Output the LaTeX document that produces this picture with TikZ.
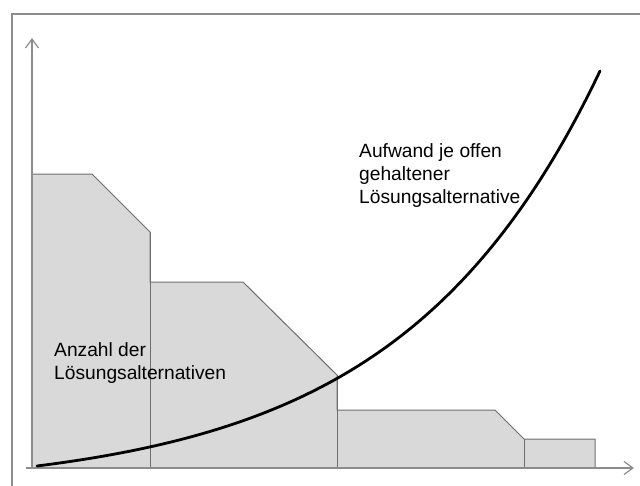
\documentclass[tikz,border=0pt]{standalone}
\usepackage{fontspec}
\setmainfont{Liberation Sans}
\usetikzlibrary{arrows.meta}
\definecolor{framegray}{HTML}{8C8C8C}
\definecolor{axisgray}{HTML}{8C8C8C}
\definecolor{edgegray}{HTML}{6E6E6E}
\definecolor{areafill}{HTML}{D9D9D9}
\tikzset{
  frameline/.style={draw=framegray, line width=1.6pt},
  axisline/.style={draw=axisgray, line width=1.2pt,
    -{Straight Barb[length=9pt,width=13pt,line width=1.2pt]}},
  areashape/.style={fill=areafill, draw=edgegray, line width=1pt, line join=miter},
  divider/.style={draw=edgegray, line width=1pt},
  costcurve/.style={draw=black, line width=2.8pt, line cap=round},
  label/.style={font=\fontsize{19.2}{23}\selectfont, align=left, inner sep=0pt, anchor=north west}
}
\begin{document}
\begin{tikzpicture}[x=1pt,y=-1pt]
  \useasboundingbox (0,0) rectangle (640,485);
  \clip (0,0) rectangle (640,485);
  % outer frame
  \draw[frameline] (12,14) rectangle (660,500);
  % stepped area: number of alternatives
  \path[areashape] (32,468) -- (32,174) -- (92,174) -- (150,232) -- (150,282)
    -- (243,282) -- (337,375) -- (337,410) -- (495,410) -- (524,439)
    -- (595,439) -- (595,468) -- cycle;
  \draw[divider] (150,232) -- (150,468);
  \draw[divider] (337,375) -- (337,468);
  \draw[divider] (524,439) -- (524,468);
  % axes
  \coordinate (origin) at (32,468);
  \coordinate (ytip) at (32,38);
  \coordinate (xstart) at (26,468);
  \coordinate (xtip) at (634,468);
  \draw[axisline] (origin) -- (ytip);
  \draw[axisline] (xstart) -- (xtip);
  % effort per alternative kept open
  \draw[costcurve] plot[domain=37:600, samples=120, smooth]
    (\x, {468 - (25.1*(exp(0.005*(\x-37))-1) + 2)});
  % labels
  \node[label] (effort) at (359,143) {Aufwand je offen\\gehaltener\\Lösungsalternative};
  \node[label] (count) at (54,342) {Anzahl der\\Lösungsalternativen};
\end{tikzpicture}
\end{document}
